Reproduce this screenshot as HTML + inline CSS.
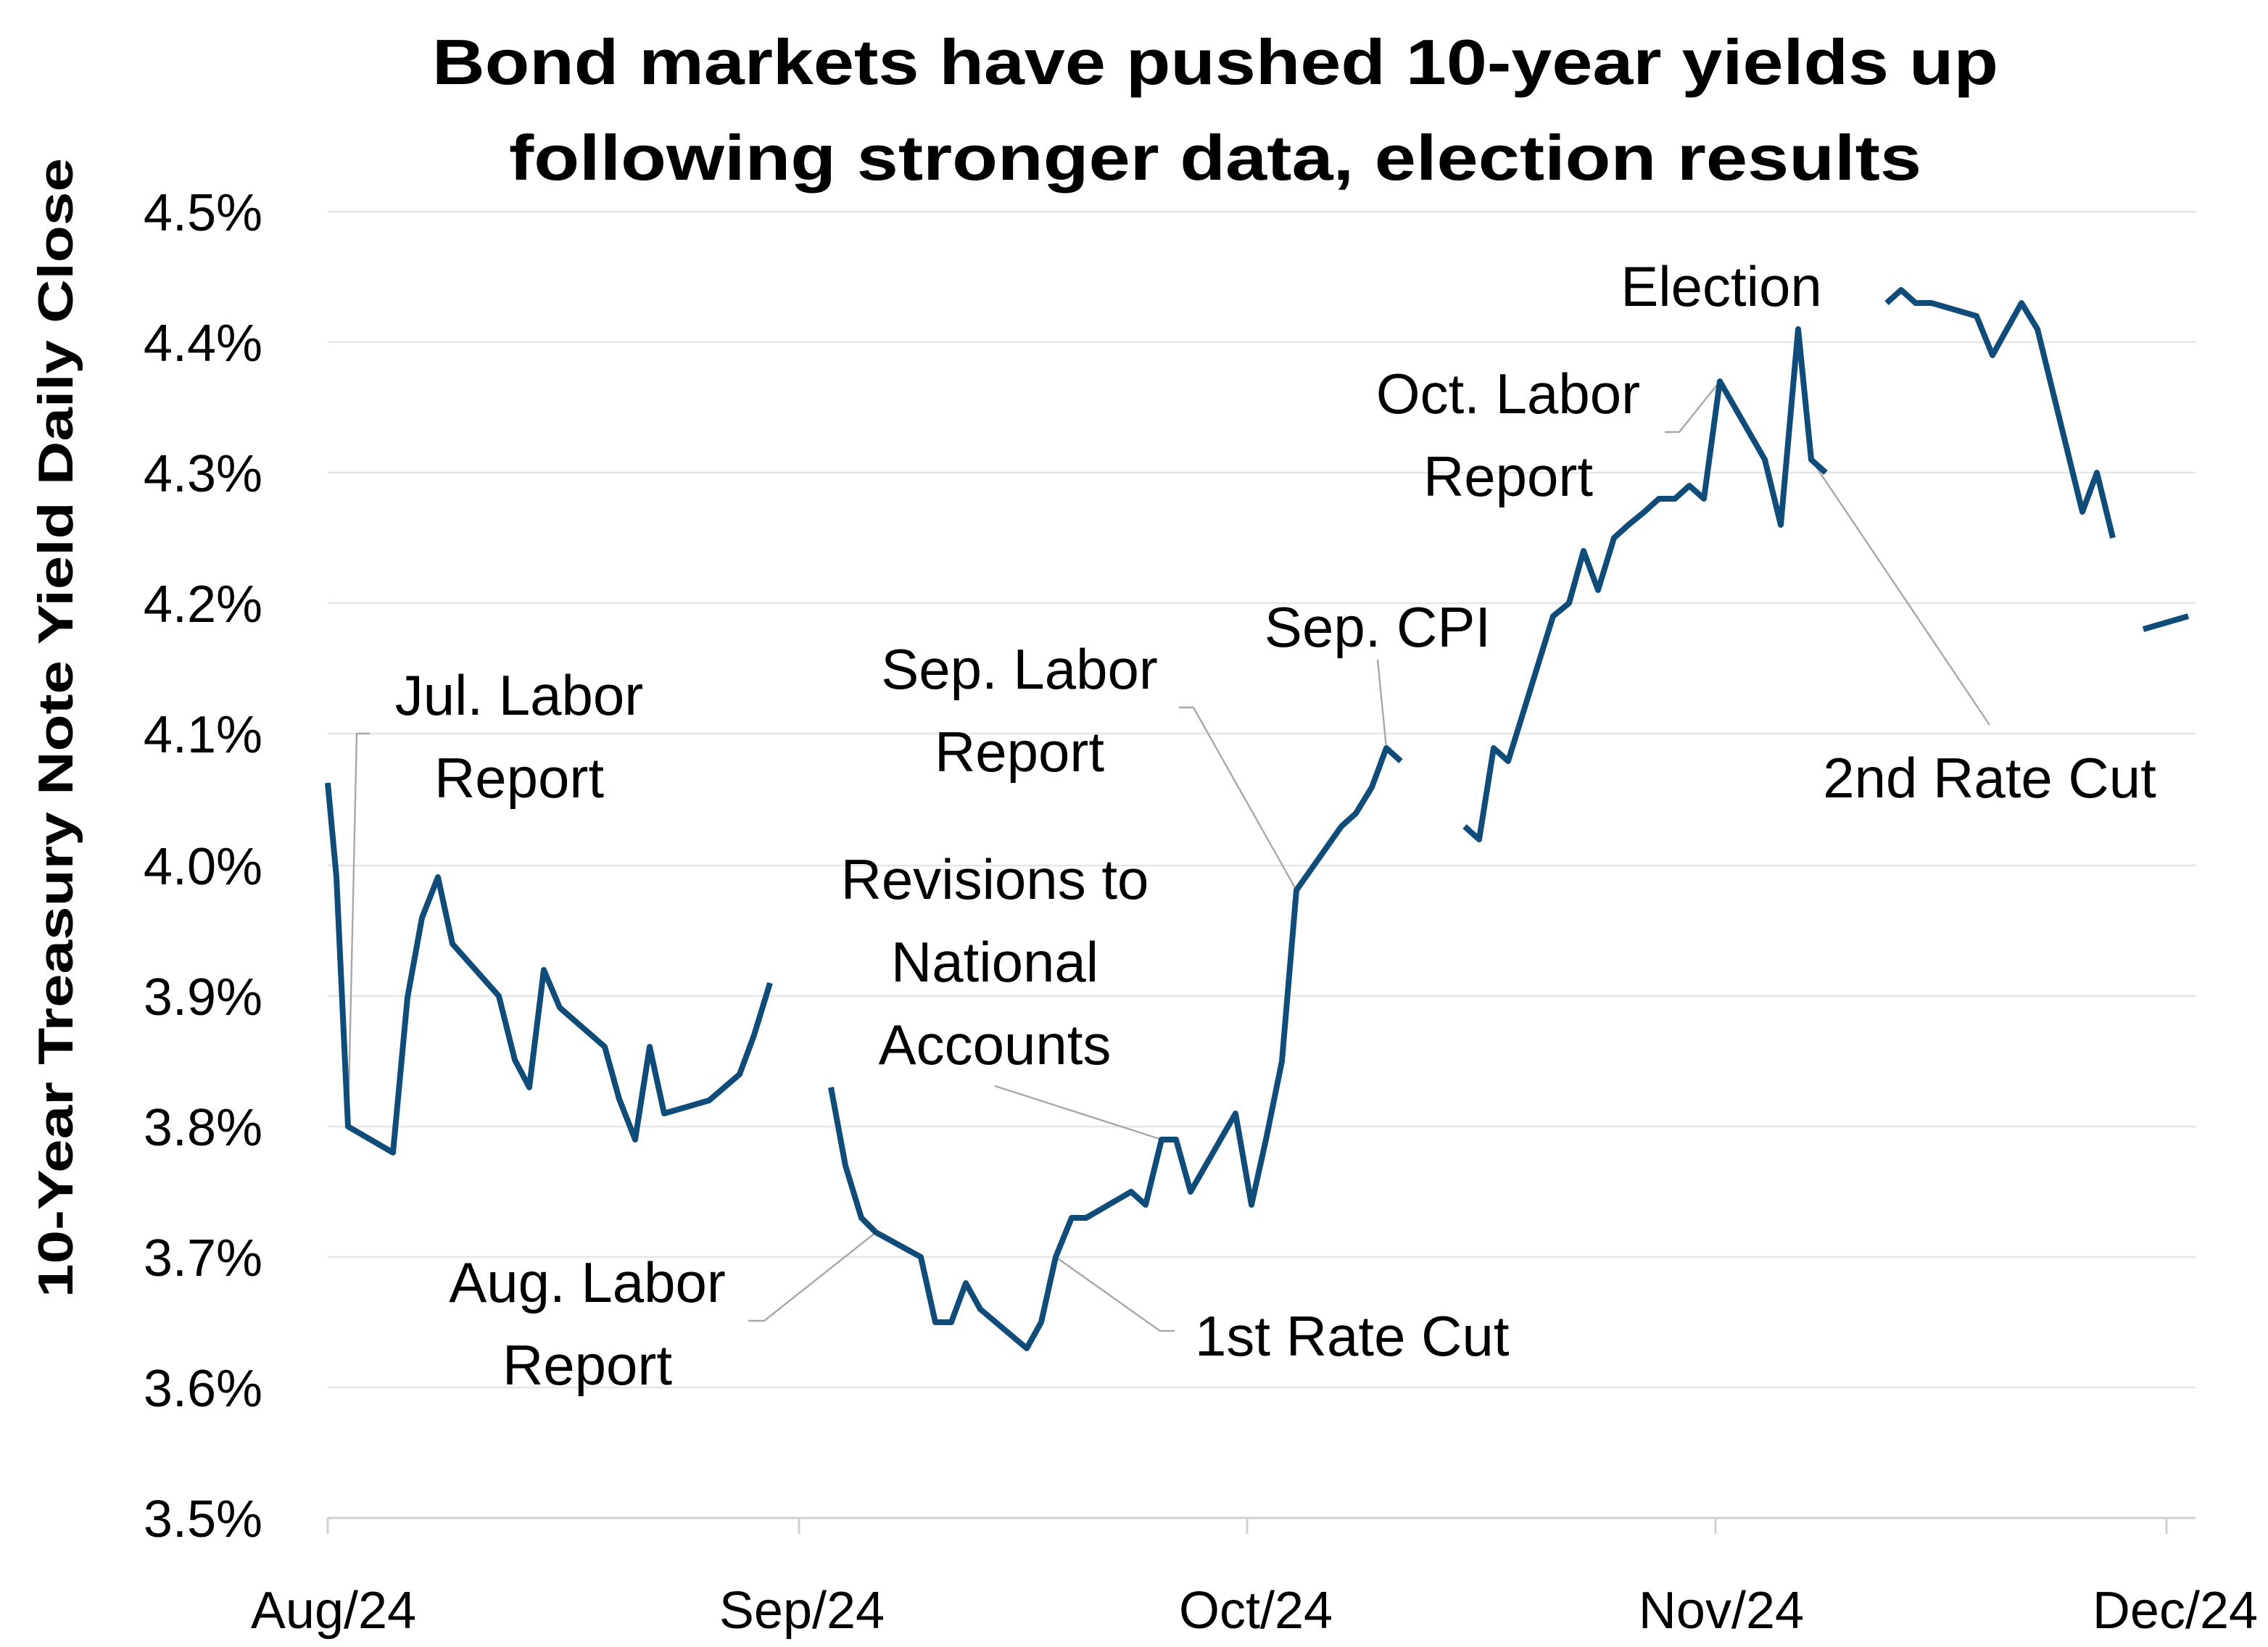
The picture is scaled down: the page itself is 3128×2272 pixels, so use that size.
<!DOCTYPE html>
<html><head><meta charset="utf-8"><style>
html,body{margin:0;padding:0;background:#fff}
svg{display:block}
text{font-family:"Liberation Sans",sans-serif;fill:#000}
</style></head><body>
<svg width="3128" height="2272" viewBox="0 0 1564 1136" xmlns="http://www.w3.org/2000/svg">
<rect width="1564" height="1136" fill="#fff"/>
<text x="838" y="58" text-anchor="middle" font-size="44" font-weight="bold" textLength="1080" lengthAdjust="spacingAndGlyphs">Bond markets have pushed 10-year yields up</text>
<text x="838" y="124" text-anchor="middle" font-size="44" font-weight="bold" textLength="974" lengthAdjust="spacingAndGlyphs">following stronger data, election results</text>
<text transform="translate(50,502) rotate(-90)" text-anchor="middle" font-size="34" font-weight="bold" textLength="786" lengthAdjust="spacingAndGlyphs">10-Year Treasury Note Yield Daily Close</text>
<g stroke="#e6e6e6" stroke-width="1.2">
<line x1="226" x2="1514" y1="146" y2="146"/><line x1="226" x2="1514" y1="236" y2="236"/>
<line x1="226" x2="1514" y1="326" y2="326"/><line x1="226" x2="1514" y1="416" y2="416"/>
<line x1="226" x2="1514" y1="506" y2="506"/><line x1="226" x2="1514" y1="597" y2="597"/>
<line x1="226" x2="1514" y1="687" y2="687"/><line x1="226" x2="1514" y1="777" y2="777"/>
<line x1="226" x2="1514" y1="867" y2="867"/><line x1="226" x2="1514" y1="957" y2="957"/>
</g>
<line x1="226" x2="1514" y1="1047" y2="1047" stroke="#d0d0d0" stroke-width="1.5"/>
<g stroke="#d0d0d0" stroke-width="1.5">
<line x1="226" x2="226" y1="1047" y2="1058"/><line x1="551" x2="551" y1="1047" y2="1058"/>
<line x1="860" x2="860" y1="1047" y2="1058"/><line x1="1183" x2="1183" y1="1047" y2="1058"/>
<line x1="1494" x2="1494" y1="1047" y2="1058"/>
</g>
<g font-size="36" text-anchor="end">
<text x="181" y="159">4.5%</text><text x="181" y="249">4.4%</text><text x="181" y="339">4.3%</text>
<text x="181" y="429">4.2%</text><text x="181" y="519">4.1%</text><text x="181" y="610">4.0%</text>
<text x="181" y="700">3.9%</text><text x="181" y="790">3.8%</text><text x="181" y="880">3.7%</text>
<text x="181" y="970">3.6%</text><text x="181" y="1060">3.5%</text>
</g>
<g font-size="36" text-anchor="middle">
<text x="230" y="1123">Aug/24</text><text x="553" y="1123">Sep/24</text><text x="866" y="1123">Oct/24</text>
<text x="1187" y="1123">Nov/24</text><text x="1500" y="1123">Dec/24</text>
</g>
<g fill="none" stroke="#a8a8a8" stroke-width="1.2">
<polyline points="255,506 246,506 240,777"/>
<polyline points="516,911 527,911 604,850"/>
<polyline points="686,749 801,786"/>
<polyline points="813,488 823,488 894,614"/>
<polyline points="810,918 800,918 728,867"/>
<polyline points="950,455 956,516"/>
<polyline points="1148,298 1158,298 1186,263"/>
<polyline points="1372,500 1249,317"/>
</g>
<g fill="none" stroke="#0f4c7a" stroke-width="4" stroke-linejoin="round">
<polyline points="226,540 232,605 240,777 271,795 281,688 291,633 302,605 312,651 344,687 355,731 365,750 375,669 386,695 417,722 427,758 438,786 448,722 458,768 489,759 510,741 520,714 531,678"/>
<polyline points="573,750 583,804 594,840 604,850 635,867 645,912 656,912 666,885 676,903 708,930 718,912 728,867 739,840 749,840 780,822 790,831 801,786 811,786 821,822 852,768 863,831 873,786 884,732 894,614 925,570 935,561 946,543 956,516 966,525"/>
<polyline points="1010,570 1020,579 1030,516 1040,525 1071,425 1082,416 1092,380 1102,407 1113,371 1123,362 1134,353 1144,344 1155,344 1165,335 1175,344 1186,263 1217,317 1228,362 1240,227 1249,317 1259,326"/>
<polyline points="1301,209 1311,200 1321,209 1332,209 1363,218 1374,245 1384,227 1394,209 1405,227 1436,353 1446,326 1457,371"/>
<polyline points="1478,434 1509,425"/>
</g>
<g font-size="39" text-anchor="middle">
<text x="358" y="493">Jul. Labor</text><text x="358" y="550">Report</text>
<text x="405" y="898">Aug. Labor</text><text x="405" y="955">Report</text>
<text x="686" y="620">Revisions to</text><text x="686" y="677">National</text><text x="686" y="734">Accounts</text>
<text x="703" y="475">Sep. Labor</text><text x="703" y="532">Report</text>
<text x="950" y="446">Sep. CPI</text>
<text x="1040" y="285">Oct. Labor</text><text x="1040" y="342">Report</text>
<text x="1187" y="211">Election</text>
<text x="1372" y="550">2nd Rate Cut</text>
<text x="824" y="935" text-anchor="start">1st Rate Cut</text>
</g>
</svg>
</body></html>
